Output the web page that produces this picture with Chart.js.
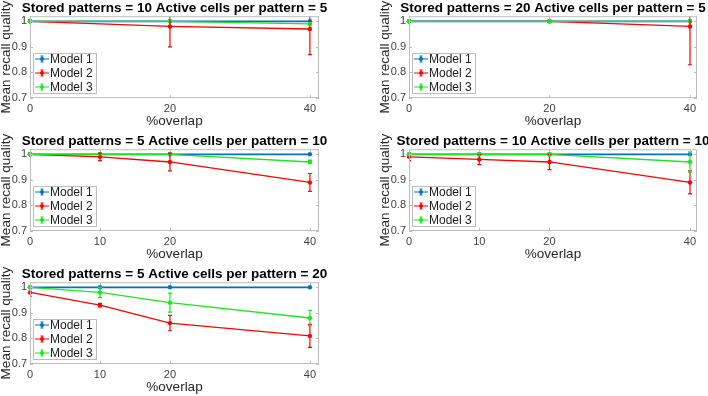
<!DOCTYPE html>
<html>
<head>
<meta charset="utf-8">
<script src="https://cdn.jsdelivr.net/npm/chart.js@4.4.1/dist/chart.umd.min.js"></script>
<style>
  html, body { margin: 0; padding: 0; background: #fff; width: 708px; height: 396px; overflow: hidden; position: relative; }
  .panel { position: absolute; }
</style>
</head>
<body>
<div class="panel" style="left:0;top:0;width:349px;height:130px"><canvas id="c1"></canvas></div>
<div class="panel" style="left:379px;top:0;width:348px;height:130px"><canvas id="c2"></canvas></div>
<div class="panel" style="left:0;top:133px;width:349px;height:130px"><canvas id="c3"></canvas></div>
<div class="panel" style="left:379px;top:133px;width:348px;height:130px"><canvas id="c4"></canvas></div>
<div class="panel" style="left:0;top:266px;width:349px;height:130px"><canvas id="c5"></canvas></div>
<script>
// x values (% overlap) and tick labels
const overlapA = [0, 20, 40];
const overlapB = [0, 10, 20, 40];
const yTicks = [0.7, 0.8, 0.9, 1];
const modelNames = ['Model 1', 'Model 2', 'Model 3'];
const modelColors = ['#0072BD', '#FF0000', '#1CE61C'];

// Stored patterns = 10, active cells = 5
const p1Model1 = [1, 1, 1],        p1Model1Err = [0, 0, 0];
const p1Model2 = [1, 0.98, 0.97],  p1Model2Err = [0, 0.08, 0.10];
const p1Model3 = [1, 1, 0.99],     p1Model3Err = [0, 0, 0.005];

// Stored patterns = 20, active cells = 5
const p2Model1 = [1, 1, 1],        p2Model1Err = [0, 0, 0];
const p2Model2 = [1, 1, 0.98],     p2Model2Err = [0, 0, 0.15];
const p2Model3 = [1, 1, 1],        p2Model3Err = [0, 0, 0];

// Stored patterns = 5, active cells = 10
const p3Model1 = [1, 1, 1, 1],          p3Model1Err = [0, 0, 0, 0];
const p3Model2 = [1, 0.99, 0.97, 0.89], p3Model2Err = [0, 0.015, 0.035, 0.035];
const p3Model3 = [1, 1, 1, 0.97],       p3Model3Err = [0, 0, 0, 0.007];

// Stored patterns = 10, active cells = 10
const p4Model1 = [1, 1, 1, 1],             p4Model1Err = [0, 0, 0, 0];
const p4Model2 = [0.99, 0.98, 0.97, 0.89], p4Model2Err = [0.015, 0.02, 0.03, 0.045];
const p4Model3 = [1, 1, 1, 0.97],          p4Model3Err = [0.005, 0.005, 0.005, 0.04];

// Stored patterns = 5, active cells = 20
const p5Model1 = [1, 1, 1, 1],             p5Model1Err = [0, 0, 0, 0];
const p5Model2 = [0.98, 0.93, 0.86, 0.81], p5Model2Err = [0.015, 0.007, 0.03, 0.045];
const p5Model3 = [1, 0.98, 0.94, 0.88],    p5Model3Err = [0.003, 0.02, 0.037, 0.03];

const FONT = "'Liberation Sans', Arial, sans-serif";
const AXIS_GRAY = '#bdbdbd';

// box, inner ticks, error bars and legend, MATLAB style
const matlabAxes = {
  id: 'matlabAxes',
  afterDatasetsDraw(chart) {
    const { ctx, chartArea: ca, scales: { y } } = chart;
    ctx.save();
    ctx.beginPath();
    ctx.rect(ca.left, ca.top, ca.right - ca.left, ca.bottom - ca.top);
    ctx.clip();
    const metas = chart.getSortedVisibleDatasetMetas().slice().reverse();
    metas.forEach(meta => {
      const ds = chart.data.datasets[meta.index];
      ctx.strokeStyle = ds.borderColor;
      ctx.lineWidth = 1.2;
      meta.data.forEach((pt, i) => {
        const e = ds.err[i];
        if (!e) return;
        const v = ds.data[i].y;
        const yt = y.getPixelForValue(v + e), yb = y.getPixelForValue(v - e);
        ctx.beginPath();
        ctx.moveTo(pt.x, yt); ctx.lineTo(pt.x, yb);
        ctx.moveTo(pt.x - 2, yt); ctx.lineTo(pt.x + 2, yt);
        ctx.moveTo(pt.x - 2, yb); ctx.lineTo(pt.x + 2, yb);
        ctx.stroke();
      });
    });
    ctx.restore();
  },
  afterDraw(chart) {
    const { ctx, chartArea: ca, scales: { x, y } } = chart;
    ctx.save();
    ctx.strokeStyle = AXIS_GRAY;
    ctx.lineWidth = 1;
    ctx.strokeRect(ca.left + 0.5, ca.top + 0.5, ca.right - ca.left - 1, ca.bottom - ca.top - 1);
    ctx.beginPath();
    y.ticks.forEach(t => {
      const py = Math.round(y.getPixelForValue(t.value)) + 0.5;
      ctx.moveTo(ca.left, py); ctx.lineTo(ca.left + 3, py);
      ctx.moveTo(ca.right, py); ctx.lineTo(ca.right - 3, py);
    });
    x.ticks.forEach(t => {
      const px = Math.round(x.getPixelForValue(t.value)) + 0.5;
      ctx.moveTo(px, ca.bottom); ctx.lineTo(px, ca.bottom - 3);
      ctx.moveTo(px, ca.top); ctx.lineTo(px, ca.top + 3);
    });
    ctx.stroke();

    // legend, sized to its text
    ctx.font = '12px ' + FONT;
    const textW = Math.max(...chart.data.datasets.map(ds => ctx.measureText(ds.label).width));
    const lx = ca.left + 3, lw = Math.round(17 + textW + 3), lh = 40, ly = ca.bottom - lh - 5;
    ctx.fillStyle = '#fff';
    ctx.fillRect(lx, ly, lw, lh);
    ctx.strokeStyle = AXIS_GRAY;
    ctx.strokeRect(lx + 0.5, ly + 0.5, lw, lh);
    ctx.textBaseline = 'middle';
    chart.data.datasets.forEach((ds, i) => {
      const ry = ly + 6 + i * 14;
      const cx = lx + 9;
      ctx.strokeStyle = ds.borderColor;
      ctx.lineWidth = 1.2;
      ctx.beginPath();
      ctx.moveTo(lx + 2, ry); ctx.lineTo(lx + 16, ry);
      ctx.moveTo(cx, ry - 3); ctx.lineTo(cx, ry + 3);
      ctx.moveTo(cx - 1.5, ry - 3); ctx.lineTo(cx + 1.5, ry - 3);
      ctx.moveTo(cx - 1.5, ry + 3); ctx.lineTo(cx + 1.5, ry + 3);
      ctx.stroke();
      ctx.fillStyle = ds.borderColor;
      ctx.beginPath();
      ctx.arc(cx, ry, 2, 0, Math.PI * 2);
      ctx.fill();
      ctx.fillStyle = '#1a1a1a';
      ctx.fillText(ds.label, lx + 17, ry + 0.5);
    });
    ctx.restore();
  }
};

function makeDataset(i, xs, ys, err) {
  return {
    label: modelNames[i],
    data: xs.map((v, k) => ({ x: v, y: ys[k] })),
    err,
    borderColor: modelColors[i],
    backgroundColor: modelColors[i],
    borderWidth: i === 0 ? 1.8 : 1.3,
    pointRadius: 2.2,
    pointBorderWidth: 0,
    tension: 0,
    clip: false,
    order: 3 - i,
  };
}

function makePanel(id, title, xs, series, xMax) {
  new Chart(document.getElementById(id), {
    type: 'line',
    data: {
      datasets: series.map((s, i) => makeDataset(i, xs, s[0], s[1])),
    },
    options: {
      responsive: true, maintainAspectRatio: false, animation: false,
      layout: { padding: 0 },
      plugins: {
        legend: { display: false },
        tooltip: { enabled: false },
        title: {
          display: true, text: title, color: '#000',
          font: { family: FONT, size: 13.5, weight: 'bold', lineHeight: 1.2 },
          padding: { top: 0, bottom: 0 },
        },
      },
      scales: {
        x: {
          type: 'linear', min: 0, max: xMax,
          afterBuildTicks: s => { s.ticks = xs.map(v => ({ value: v })); },
          afterFit: s => { s.height = 32; },
          grid: { display: false, drawTicks: false },
          border: { display: false },
          ticks: { color: '#404040', font: { family: FONT, size: 11 }, padding: 4 },
          title: { display: true, text: '%overlap', color: '#262626', font: { family: FONT, size: 13.5, lineHeight: 1.1 }, padding: { top: 0, bottom: 1 } },
        },
        y: {
          min: 0.7, max: 1.02,
          afterBuildTicks: s => { s.ticks = yTicks.map(v => ({ value: v })); },
          afterFit: s => { s.width = 30; },
          grid: { display: false, drawTicks: false },
          border: { display: false },
          ticks: { color: '#404040', font: { family: FONT, size: 11 }, padding: 3, callback: v => String(v) },
          title: { display: true, text: 'Mean recall quality', color: '#262626', font: { family: FONT, size: 13.5, lineHeight: 1.0 }, padding: 0 },
        },
        // empty right-hand gutter so the title centres over the plot box
        gutter: {
          position: 'right', min: 0, max: 1,
          afterFit: s => { s.width = 30; },
          grid: { display: false, drawTicks: false },
          border: { display: false },
          ticks: { display: false },
        },
      },
    },
    plugins: [matlabAxes],
  });
}

makePanel('c1', 'Stored patterns = 10 Active cells per pattern = 5', overlapA,
  [[p1Model1, p1Model1Err], [p1Model2, p1Model2Err], [p1Model3, p1Model3Err]], 41.3);
makePanel('c2', 'Stored patterns = 20 Active cells per pattern = 5', overlapA,
  [[p2Model1, p2Model1Err], [p2Model2, p2Model2Err], [p2Model3, p2Model3Err]], 41);
makePanel('c3', 'Stored patterns = 5 Active cells per pattern = 10', overlapB,
  [[p3Model1, p3Model1Err], [p3Model2, p3Model2Err], [p3Model3, p3Model3Err]], 41.3);
makePanel('c4', 'Stored patterns = 10 Active cells per pattern = 10', overlapB,
  [[p4Model1, p4Model1Err], [p4Model2, p4Model2Err], [p4Model3, p4Model3Err]], 41);
makePanel('c5', 'Stored patterns = 5 Active cells per pattern = 20', overlapB,
  [[p5Model1, p5Model1Err], [p5Model2, p5Model2Err], [p5Model3, p5Model3Err]], 41.3);
</script>
</body>
</html>
